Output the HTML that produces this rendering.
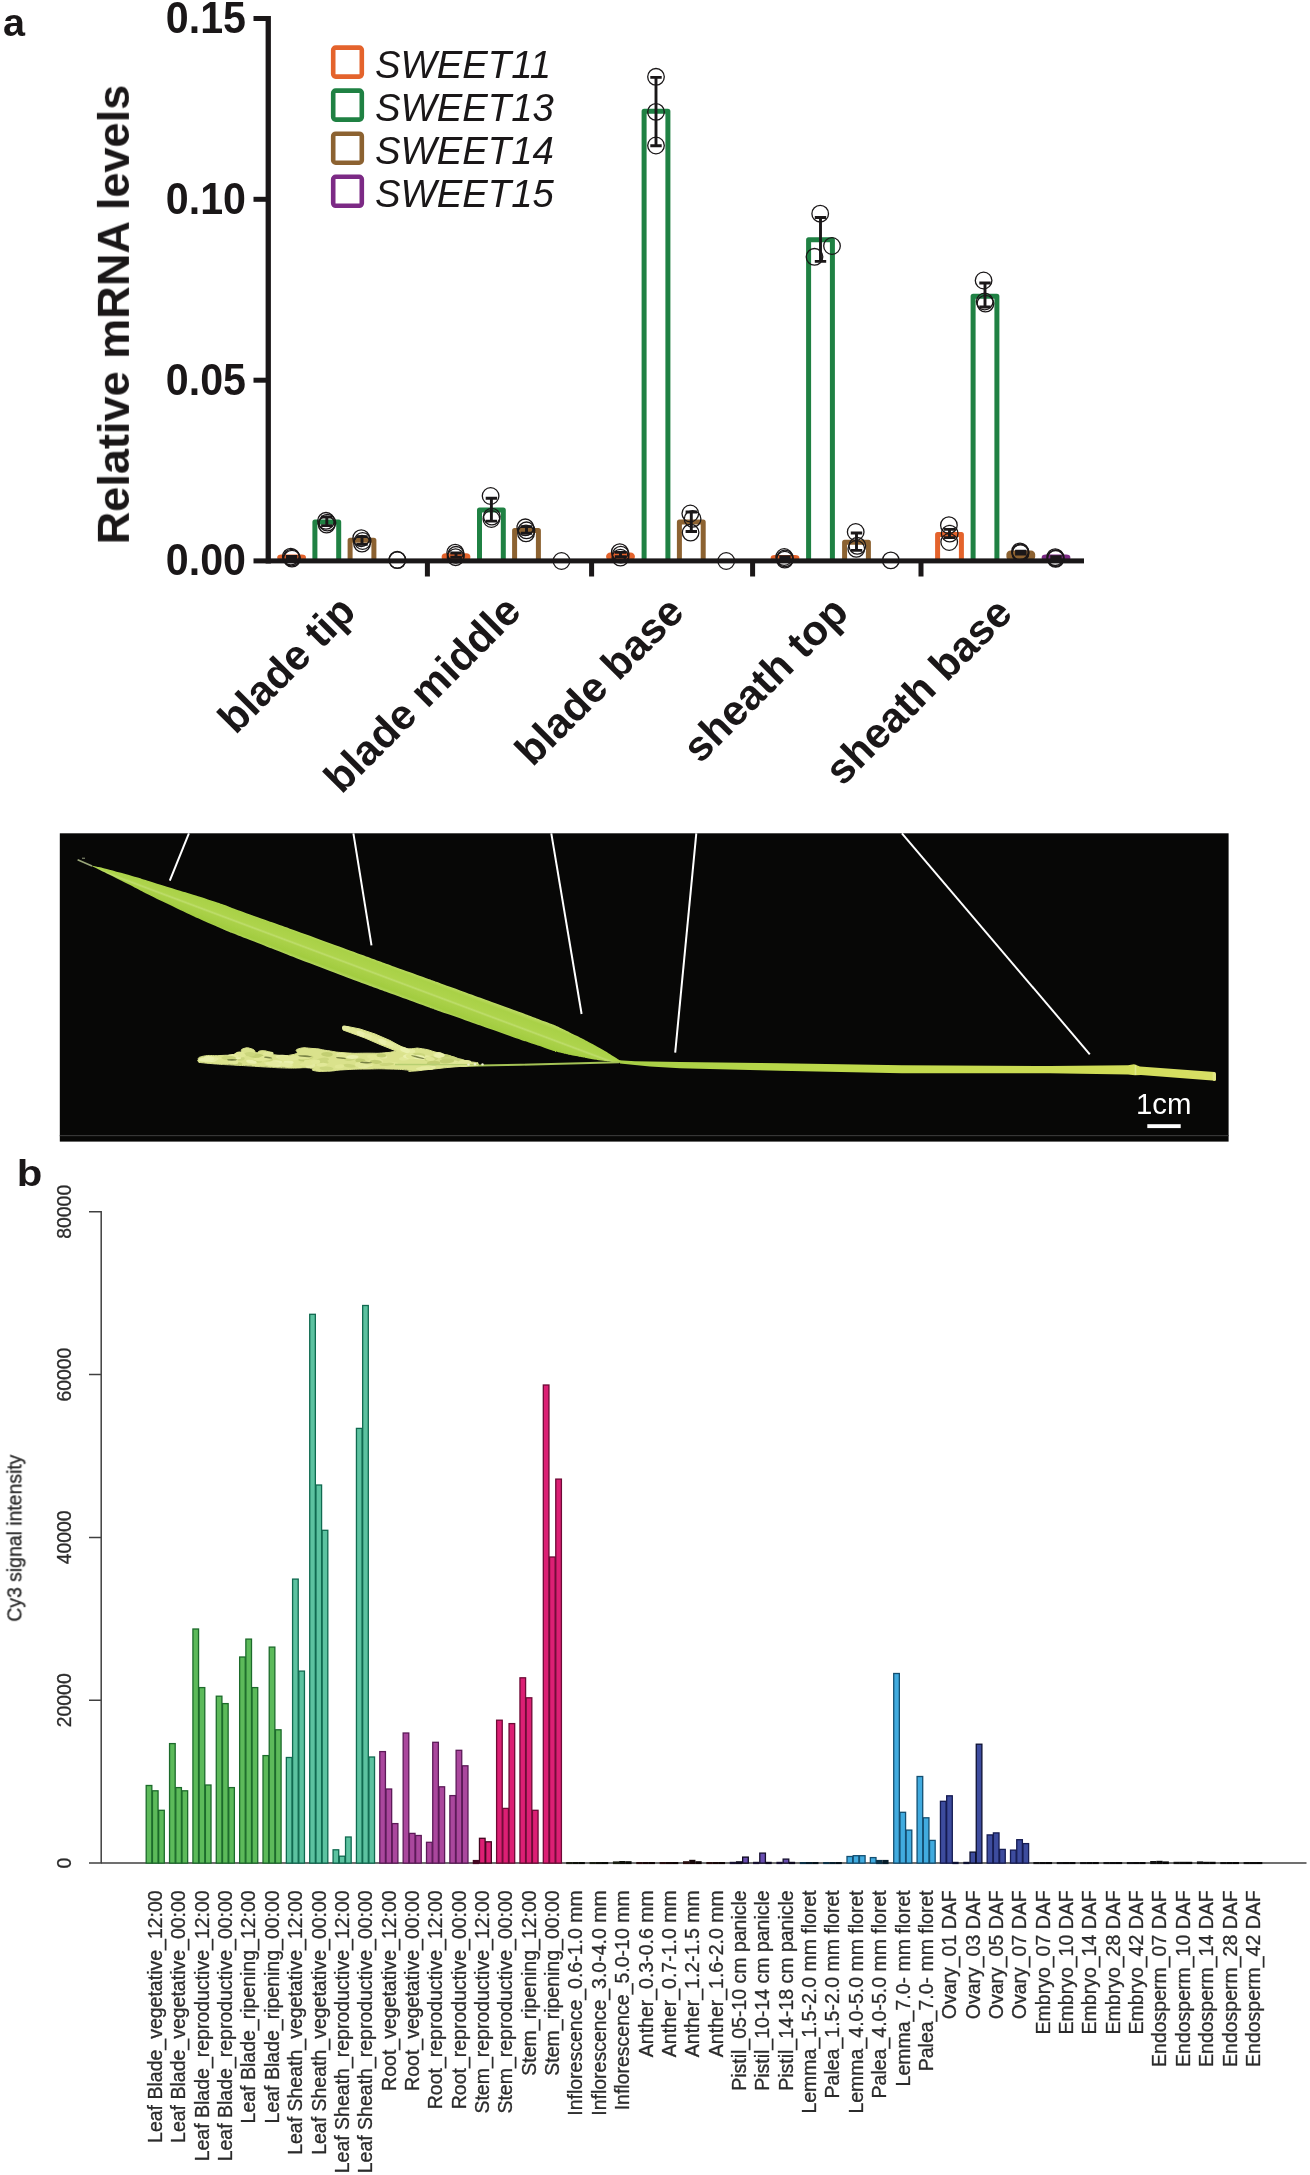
<!DOCTYPE html>
<html><head><meta charset="utf-8"><title>figure</title>
<style>
html,body{margin:0;padding:0;background:#fff;}
body{width:1310px;height:2175px;overflow:hidden;}
svg{display:block;font-family:'Liberation Sans', sans-serif;}
</style></head><body>
<svg width="1310" height="2175" viewBox="0 0 1310 2175">
<rect width="1310" height="2175" fill="#fff"/>
<g opacity="0.999">
<g id="panel-a">
<text x="3" y="35.6" font-size="38" font-weight="700" fill="#1a1718" textLength="22" lengthAdjust="spacingAndGlyphs">a</text>
<text transform="translate(128.9,314.6) rotate(-90)" text-anchor="middle" font-size="45.1" font-weight="700" fill="#1a1718">Relative mRNA levels</text>
<text transform="translate(246,33.0) scale(1,1.055)" text-anchor="end" font-size="41.2" font-weight="700" fill="#1a1718">0.15</text>
<text transform="translate(246,213.8) scale(1,1.055)" text-anchor="end" font-size="41.2" font-weight="700" fill="#1a1718">0.10</text>
<text transform="translate(246,394.7) scale(1,1.055)" text-anchor="end" font-size="41.2" font-weight="700" fill="#1a1718">0.05</text>
<text transform="translate(246,575.5) scale(1,1.055)" text-anchor="end" font-size="41.2" font-weight="700" fill="#1a1718">0.00</text>
<rect x="333.2" y="47.6" width="28.6" height="29" rx="2.5" fill="#fff" stroke="#E4632C" stroke-width="4.6"/>
<text x="375" y="77.6" font-size="38.3" font-style="italic" fill="#1a1718">SWEET11</text>
<rect x="333.2" y="90.6" width="28.6" height="29" rx="2.5" fill="#fff" stroke="#1F8143" stroke-width="4.6"/>
<text x="375" y="120.6" font-size="38.3" font-style="italic" fill="#1a1718">SWEET13</text>
<rect x="333.2" y="133.7" width="28.6" height="29" rx="2.5" fill="#fff" stroke="#8C6231" stroke-width="4.6"/>
<text x="375" y="163.7" font-size="38.3" font-style="italic" fill="#1a1718">SWEET14</text>
<rect x="333.2" y="176.8" width="28.6" height="29" rx="2.5" fill="#fff" stroke="#7C2A85" stroke-width="4.6"/>
<text x="375" y="206.8" font-size="38.3" font-style="italic" fill="#1a1718">SWEET15</text>
<rect x="277.2" y="554.6" width="28.8" height="6.4" rx="4.2" fill="#E4632C"/>
<path d="M314.9 561.0 V521.9 H338.7 V561.0" fill="none" stroke="#1F8143" stroke-width="5" stroke-linejoin="round"/>
<path d="M350.1 561.0 V540.2 H373.9 V561.0" fill="none" stroke="#8C6231" stroke-width="5" stroke-linejoin="round"/>
<rect x="441.6" y="553.2" width="28.8" height="7.8" rx="4.2" fill="#E4632C"/>
<path d="M479.5 561.0 V509.9 H503.3 V561.0" fill="none" stroke="#1F8143" stroke-width="5" stroke-linejoin="round"/>
<path d="M514.6 561.0 V530.5 H538.4 V561.0" fill="none" stroke="#8C6231" stroke-width="5" stroke-linejoin="round"/>
<rect x="606.1" y="552.4" width="28.8" height="8.6" rx="4.2" fill="#E4632C"/>
<path d="M644.1 561.0 V111.2 H667.9 V561.0" fill="none" stroke="#1F8143" stroke-width="5" stroke-linejoin="round"/>
<path d="M679.4 561.0 V522.1 H703.2 V561.0" fill="none" stroke="#8C6231" stroke-width="5" stroke-linejoin="round"/>
<rect x="770.6" y="555.0" width="28.8" height="6.0" rx="4.2" fill="#E4632C"/>
<path d="M808.6 561.0 V239.8 H832.4 V561.0" fill="none" stroke="#1F8143" stroke-width="5" stroke-linejoin="round"/>
<path d="M844.6 561.0 V542.2 H868.4 V561.0" fill="none" stroke="#8C6231" stroke-width="5" stroke-linejoin="round"/>
<path d="M937.6 561.0 V534.4 H961.4 V561.0" fill="none" stroke="#E4632C" stroke-width="5" stroke-linejoin="round"/>
<path d="M973.1 561.0 V296.3 H996.9 V561.0" fill="none" stroke="#1F8143" stroke-width="5" stroke-linejoin="round"/>
<rect x="1006.4" y="550.4" width="28.8" height="10.6" rx="4.2" fill="#8C6231"/>
<rect x="1041.6" y="554.6" width="28.8" height="6.4" rx="4.2" fill="#7C2A85"/>
<rect x="265.6" y="16" width="5.3" height="547.5" fill="#1a1718"/>
<rect x="253.5" y="558.4" width="830.5" height="5" fill="#1a1718"/>
<rect x="253.5" y="16.0" width="14" height="5" fill="#1a1718"/>
<rect x="253.5" y="196.8" width="14" height="5" fill="#1a1718"/>
<rect x="253.5" y="377.7" width="14" height="5" fill="#1a1718"/>
<rect x="424.9" y="560" width="5" height="16.5" fill="#1a1718"/>
<rect x="589.1" y="560" width="5" height="16.5" fill="#1a1718"/>
<rect x="750.1" y="560" width="5" height="16.5" fill="#1a1718"/>
<rect x="918.5" y="560" width="5" height="16.5" fill="#1a1718"/>
<path d="M291.6 556.5 V559.5 M285.9 556.5 h11.4 M285.9 559.5 h11.4" fill="none" stroke="#1a1718" stroke-width="2.9"/>
<circle cx="290.8" cy="556.6" r="8.3" fill="none" stroke="#1a1718" stroke-width="1.3"/>
<circle cx="291.6" cy="557.6" r="8.3" fill="none" stroke="#1a1718" stroke-width="1.3"/>
<circle cx="292.0" cy="558.6" r="8.3" fill="none" stroke="#1a1718" stroke-width="1.3"/>
<path d="M326.8 517.0 V525.6 M321.1 517.0 h11.4 M321.1 525.6 h11.4" fill="none" stroke="#1a1718" stroke-width="2.9"/>
<circle cx="326.0" cy="520.8" r="8.3" fill="none" stroke="#1a1718" stroke-width="1.3"/>
<circle cx="327.4" cy="522.6" r="8.3" fill="none" stroke="#1a1718" stroke-width="1.3"/>
<circle cx="326.6" cy="524.6" r="8.3" fill="none" stroke="#1a1718" stroke-width="1.3"/>
<path d="M362.0 536.6 V544.4 M356.3 536.6 h11.4 M356.3 544.4 h11.4" fill="none" stroke="#1a1718" stroke-width="2.9"/>
<circle cx="361.2" cy="538.2" r="8.3" fill="none" stroke="#1a1718" stroke-width="1.3"/>
<circle cx="362.6" cy="541.0" r="8.3" fill="none" stroke="#1a1718" stroke-width="1.3"/>
<circle cx="362.0" cy="543.6" r="8.3" fill="none" stroke="#1a1718" stroke-width="1.3"/>
<circle cx="397.2" cy="559.8" r="8.3" fill="none" stroke="#1a1718" stroke-width="1.3"/>
<circle cx="397.4" cy="560.1" r="8.3" fill="none" stroke="#1a1718" stroke-width="1.3"/>
<path d="M456.0 553.0 V557.2 M450.3 553.0 h11.4 M450.3 557.2 h11.4" fill="none" stroke="#1a1718" stroke-width="2.9"/>
<circle cx="455.2" cy="552.6" r="8.3" fill="none" stroke="#1a1718" stroke-width="1.3"/>
<circle cx="456.0" cy="554.8" r="8.3" fill="none" stroke="#1a1718" stroke-width="1.3"/>
<circle cx="455.6" cy="557.2" r="8.3" fill="none" stroke="#1a1718" stroke-width="1.3"/>
<path d="M491.4 498.2 V521.1 M485.7 498.2 h11.4 M485.7 521.1 h11.4" fill="none" stroke="#1a1718" stroke-width="2.9"/>
<circle cx="490.6" cy="496.0" r="8.3" fill="none" stroke="#1a1718" stroke-width="1.3"/>
<circle cx="491.8" cy="516.6" r="8.3" fill="none" stroke="#1a1718" stroke-width="1.3"/>
<circle cx="491.4" cy="519.0" r="8.3" fill="none" stroke="#1a1718" stroke-width="1.3"/>
<path d="M526.5 526.6 V533.2 M520.8 526.6 h11.4 M520.8 533.2 h11.4" fill="none" stroke="#1a1718" stroke-width="2.9"/>
<circle cx="525.3" cy="527.3" r="8.3" fill="none" stroke="#1a1718" stroke-width="1.3"/>
<circle cx="526.5" cy="530.3" r="8.3" fill="none" stroke="#1a1718" stroke-width="1.3"/>
<circle cx="526.0" cy="533.4" r="8.3" fill="none" stroke="#1a1718" stroke-width="1.3"/>
<circle cx="561.5" cy="561.0" r="8.3" fill="none" stroke="#1a1718" stroke-width="1.3"/>
<path d="M620.5 552.4 V556.8 M614.8 552.4 h11.4 M614.8 556.8 h11.4" fill="none" stroke="#1a1718" stroke-width="2.9"/>
<circle cx="619.8" cy="552.2" r="8.3" fill="none" stroke="#1a1718" stroke-width="1.3"/>
<circle cx="620.8" cy="554.6" r="8.3" fill="none" stroke="#1a1718" stroke-width="1.3"/>
<circle cx="620.4" cy="557.6" r="8.3" fill="none" stroke="#1a1718" stroke-width="1.3"/>
<path d="M656.0 77.4 V145.8 M650.3 77.4 h11.4 M650.3 145.8 h11.4" fill="none" stroke="#1a1718" stroke-width="2.9"/>
<circle cx="656.0" cy="76.8" r="8.3" fill="none" stroke="#1a1718" stroke-width="1.3"/>
<circle cx="656.0" cy="111.9" r="8.3" fill="none" stroke="#1a1718" stroke-width="1.3"/>
<circle cx="656.0" cy="145.5" r="8.3" fill="none" stroke="#1a1718" stroke-width="1.3"/>
<path d="M691.3 512.0 V531.5 M685.6 512.0 h11.4 M685.6 531.5 h11.4" fill="none" stroke="#1a1718" stroke-width="2.9"/>
<circle cx="690.3" cy="513.5" r="8.3" fill="none" stroke="#1a1718" stroke-width="1.3"/>
<circle cx="692.6" cy="518.9" r="8.3" fill="none" stroke="#1a1718" stroke-width="1.3"/>
<circle cx="690.6" cy="532.6" r="8.3" fill="none" stroke="#1a1718" stroke-width="1.3"/>
<circle cx="726.2" cy="561.0" r="8.3" fill="none" stroke="#1a1718" stroke-width="1.3"/>
<path d="M785.0 556.8 V559.2 M779.3 556.8 h11.4 M779.3 559.2 h11.4" fill="none" stroke="#1a1718" stroke-width="2.9"/>
<circle cx="784.2" cy="557.0" r="8.3" fill="none" stroke="#1a1718" stroke-width="1.3"/>
<circle cx="785.0" cy="558.4" r="8.3" fill="none" stroke="#1a1718" stroke-width="1.3"/>
<circle cx="784.8" cy="559.6" r="8.3" fill="none" stroke="#1a1718" stroke-width="1.3"/>
<path d="M820.5 217.5 V261.4 M814.8 217.5 h11.4 M814.8 261.4 h11.4" fill="none" stroke="#1a1718" stroke-width="2.9"/>
<circle cx="820.2" cy="213.7" r="8.3" fill="none" stroke="#1a1718" stroke-width="1.3"/>
<circle cx="832.0" cy="246.0" r="8.3" fill="none" stroke="#1a1718" stroke-width="1.3"/>
<circle cx="814.5" cy="256.8" r="8.3" fill="none" stroke="#1a1718" stroke-width="1.3"/>
<path d="M856.5 533.0 V550.4 M850.8 533.0 h11.4 M850.8 550.4 h11.4" fill="none" stroke="#1a1718" stroke-width="2.9"/>
<circle cx="855.7" cy="532.0" r="8.3" fill="none" stroke="#1a1718" stroke-width="1.3"/>
<circle cx="857.3" cy="545.8" r="8.3" fill="none" stroke="#1a1718" stroke-width="1.3"/>
<circle cx="856.3" cy="548.9" r="8.3" fill="none" stroke="#1a1718" stroke-width="1.3"/>
<circle cx="890.8" cy="560.4" r="8.3" fill="none" stroke="#1a1718" stroke-width="1.3"/>
<path d="M949.5 529.4 V537.6 M943.8 529.4 h11.4 M943.8 537.6 h11.4" fill="none" stroke="#1a1718" stroke-width="2.9"/>
<circle cx="948.9" cy="525.2" r="8.3" fill="none" stroke="#1a1718" stroke-width="1.3"/>
<circle cx="949.7" cy="533.6" r="8.3" fill="none" stroke="#1a1718" stroke-width="1.3"/>
<circle cx="949.2" cy="542.0" r="8.3" fill="none" stroke="#1a1718" stroke-width="1.3"/>
<path d="M985.0 283.0 V307.0 M979.3 283.0 h11.4 M979.3 307.0 h11.4" fill="none" stroke="#1a1718" stroke-width="2.9"/>
<circle cx="983.6" cy="280.5" r="8.3" fill="none" stroke="#1a1718" stroke-width="1.3"/>
<circle cx="984.7" cy="301.5" r="8.3" fill="none" stroke="#1a1718" stroke-width="1.3"/>
<circle cx="985.5" cy="303.6" r="8.3" fill="none" stroke="#1a1718" stroke-width="1.3"/>
<path d="M1020.8 551.2 V554.0 M1015.1 551.2 h11.4 M1015.1 554.0 h11.4" fill="none" stroke="#1a1718" stroke-width="2.9"/>
<circle cx="1020.0" cy="551.4" r="8.3" fill="none" stroke="#1a1718" stroke-width="1.3"/>
<circle cx="1020.6" cy="552.4" r="8.3" fill="none" stroke="#1a1718" stroke-width="1.3"/>
<circle cx="1020.4" cy="553.2" r="8.3" fill="none" stroke="#1a1718" stroke-width="1.3"/>
<path d="M1056.0 556.6 V558.8 M1050.3 556.6 h11.4 M1050.3 558.8 h11.4" fill="none" stroke="#1a1718" stroke-width="2.9"/>
<circle cx="1055.2" cy="557.2" r="8.3" fill="none" stroke="#1a1718" stroke-width="1.3"/>
<circle cx="1055.8" cy="558.2" r="8.3" fill="none" stroke="#1a1718" stroke-width="1.3"/>
<circle cx="1055.6" cy="558.8" r="8.3" fill="none" stroke="#1a1718" stroke-width="1.3"/>
<text transform="translate(357.7,613.5) rotate(-45)" text-anchor="end" font-size="42" font-weight="700" fill="#1a1718">blade tip</text>
<text transform="translate(523,613.5) rotate(-45)" text-anchor="end" font-size="42" font-weight="700" fill="#1a1718">blade middle</text>
<text transform="translate(686.1,614.3) rotate(-45)" text-anchor="end" font-size="42" font-weight="700" fill="#1a1718">blade base</text>
<text transform="translate(850.3,614.3) rotate(-45)" text-anchor="end" font-size="42" font-weight="700" fill="#1a1718">sheath top</text>
<text transform="translate(1014.2,615.4) rotate(-45)" text-anchor="end" font-size="42" font-weight="700" fill="#1a1718">sheath base</text>
</g>
<g id="photo">
<defs>
<linearGradient id="leafg" gradientUnits="userSpaceOnUse" x1="404.9" y1="969.6" x2="395.1" y2="995.8"><stop offset="0" stop-color="#bcda62"/><stop offset="0.14" stop-color="#a9d146"/><stop offset="0.44" stop-color="#aed44d"/><stop offset="0.5" stop-color="#bedd6c"/><stop offset="0.56" stop-color="#aad148"/><stop offset="0.86" stop-color="#a2cc40"/><stop offset="1" stop-color="#b6d862"/></linearGradient>
<linearGradient id="sheathg" gradientUnits="userSpaceOnUse" x1="620" y1="0" x2="1215" y2="0"><stop offset="0" stop-color="#a6ce45"/><stop offset="0.35" stop-color="#bdd94b"/><stop offset="0.8" stop-color="#cfdc55"/><stop offset="1" stop-color="#d8df66"/></linearGradient>
<filter id="soft" x="-5%" y="-20%" width="110%" height="140%"><feGaussianBlur stdDeviation="0.55"/></filter>
<filter id="soft2" x="-5%" y="-20%" width="110%" height="140%"><feGaussianBlur stdDeviation="0.6"/></filter>
</defs>
<rect x="59.8" y="833.3" width="1168.8" height="308.3" fill="#070706"/>
<rect x="59.8" y="1135" width="1168.8" height="1.2" fill="#363636"/>
<g filter="url(#soft)">
<path d="M90.5 865.1528 C100.7 867.7 95.5 865.6 121.0 872.8 C146.5 880.0 136.3 877.3 166.9 886.8 C197.5 896.2 185.0 891.8 212.7 901.0 C240.4 910.2 210.9 900.3 250.0 914.4 C289.1 928.4 276.7 923.9 330.0 943.2 C383.3 962.5 370.0 957.7 410.0 972.3 C450.0 986.8 416.7 974.6 450.0 986.8 C483.3 998.9 478.3 997.0 510.0 1008.6 C541.7 1020.2 528.3 1015.2 545.0 1021.6 C561.7 1028.0 549.7 1023.1 560.0 1027.7 C570.3 1032.4 566.0 1030.5 576.0 1035.6 C586.0 1040.6 581.7 1038.4 590.0 1042.8 C598.3 1047.2 593.7 1044.6 601.0 1048.8 C608.3 1053.0 605.3 1051.3 612.0 1055.4 C618.7 1059.5 618.0 1059.2 621.0 1061.0 L621 1062.6499999999999 C618.0 1062.4 618.7 1062.6 612.0 1061.9 C605.3 1061.2 608.3 1061.6 601.0 1060.6 C593.7 1059.6 598.3 1060.3 590.0 1058.8 C581.7 1057.3 586.0 1058.2 576.0 1056.1 C566.0 1054.0 570.3 1055.2 560.0 1052.5 C549.7 1049.8 561.7 1053.4 545.0 1047.9 C528.3 1042.4 541.7 1047.0 510.0 1035.9 C478.3 1024.9 483.3 1026.6 450.0 1014.8 C416.7 1002.9 450.0 1015.0 410.0 1000.4 C370.0 985.8 383.3 991.1 330.0 971.0 C276.7 950.8 289.1 955.3 250.0 940.0 C210.9 924.6 240.4 937.0 212.7 924.8 C185.0 912.7 197.5 918.3 166.9 903.6 C136.3 888.8 146.5 893.2 121.0 880.5 C95.5 867.8 100.7 870.5 90.5 865.6 Z" fill="url(#leafg)"/>
<path d="M77.6 859.8 L92 866" stroke="#9aa67a" stroke-width="1.6" fill="none"/>
<rect x="82" y="857.6" width="3" height="1.4" fill="#6a6f5a"/>
<path d="M440 1066.2 L520 1064.8 L619 1062.2" stroke="#a4c254" stroke-width="1.9" fill="none"/>
<path d="M619.0 1060.2 L635.0 1061.2 L680.0 1062.0 L780.0 1063.3 L902.0 1065.3 L1050.0 1066.0 L1128.0 1065.2 L1134.0 1064.3 L1140.0 1066.5 L1214.5 1072.0 L1215.5 1080.8 L1141.0 1075.0 L1135.0 1075.3 L1128.0 1074.5 L1050.0 1073.2 L902.0 1073.3 L780.0 1070.8 L680.0 1068.3 L650.0 1066.6 L620.0 1063.6Z" fill="url(#sheathg)"/>
<path d="M1135.5 1064.8 V1075" stroke="#dfe88a" stroke-width="1.6"/>
<rect x="1212.6" y="1072" width="3.4" height="9" rx="1.7" fill="#e2e684"/>
</g>
<g filter="url(#soft2)">
<path d="M197.7 1060.4 C199.6 1059.0 195.5 1057.8 203.3 1056.2 C211.1 1054.6 209.4 1056.2 221.0 1055.5 C232.6 1054.8 230.7 1056.2 238.0 1054.0 C245.3 1051.8 238.3 1050.5 243.0 1048.8 C247.7 1047.1 247.5 1047.7 252.0 1049.0 C256.5 1050.3 253.5 1052.0 256.4 1052.6 C259.3 1053.2 256.7 1051.1 260.8 1050.8 C264.9 1050.5 264.3 1050.5 268.7 1051.8 C273.1 1053.1 265.6 1053.9 274.0 1054.8 C282.4 1055.7 285.8 1056.4 294.0 1054.4 C302.2 1052.4 291.8 1050.7 298.5 1048.8 C305.2 1046.9 304.4 1048.0 314.0 1048.6 C323.6 1049.2 317.0 1049.2 327.3 1050.6 C337.6 1052.0 331.8 1051.9 345.0 1052.8 C358.2 1053.7 353.7 1053.2 367.0 1053.2 C380.3 1053.2 374.5 1053.6 384.8 1052.8 C395.1 1052.0 389.1 1052.1 398.0 1050.8 C406.9 1049.5 403.2 1049.5 411.4 1048.8 C419.6 1048.1 413.6 1047.5 422.5 1048.8 C431.4 1050.1 428.4 1050.3 438.0 1052.8 C447.6 1055.3 442.4 1053.7 451.2 1056.2 C460.0 1058.7 455.6 1058.2 464.5 1060.4 C473.4 1062.6 473.5 1062.0 478.0 1062.8 L478 1065.4 C470.6 1065.9 470.5 1065.6 455.7 1066.8 C440.9 1068.0 448.3 1067.5 433.5 1069.0 C418.7 1070.5 419.6 1070.8 411.4 1071.2 C403.2 1071.6 416.4 1070.9 409.0 1070.2 C401.6 1069.5 403.2 1069.4 389.2 1069.0 C375.2 1068.6 381.7 1068.8 367.0 1069.0 C352.3 1069.2 358.2 1069.0 345.0 1069.7 C331.8 1070.4 337.6 1070.9 327.3 1071.2 C317.0 1071.5 319.9 1071.7 314.0 1070.6 C308.1 1069.5 318.4 1068.9 309.5 1068.0 C300.6 1067.1 302.9 1068.4 287.4 1068.0 C271.9 1067.6 279.2 1067.7 263.0 1066.8 C246.8 1065.9 254.2 1066.2 238.7 1065.3 C223.2 1064.4 229.9 1065.0 216.6 1064.0 C203.3 1063.0 204.8 1062.9 198.9 1062.4 Z" fill="#dae28c" stroke="#dae28c" stroke-width="1.0" stroke-linejoin="round"/>
<path d="M342.5 1027.3 L347.0 1026.4 L360.0 1029.0 L375.0 1034.0 L390.0 1040.5 L400.0 1046.0 L412.0 1050.5 L408.0 1054.0 L395.0 1050.5 L380.0 1044.5 L365.0 1038.0 L350.0 1032.5 L343.0 1030.0Z" fill="#dde590" stroke="#dde590" stroke-width="1.0" stroke-linejoin="round"/>
<ellipse cx="321.5" cy="1061.4" rx="7.3" ry="2.1" fill="#cbd67c" transform="rotate(8 321.5 1061.4)"/>
<ellipse cx="252.8" cy="1062.0" rx="5.9" ry="2.2" fill="#e1e898" transform="rotate(-4 252.8 1062.0)"/>
<ellipse cx="282.5" cy="1057.0" rx="6.9" ry="2.3" fill="#e5eba0" transform="rotate(4 282.5 1057.0)"/>
<ellipse cx="306.8" cy="1057.6" rx="6.7" ry="2.3" fill="#cbd67c" transform="rotate(-6 306.8 1057.6)"/>
<ellipse cx="341.4" cy="1054.7" rx="5.1" ry="1.8" fill="#e5eba0" transform="rotate(6 341.4 1054.7)"/>
<ellipse cx="288.5" cy="1062.2" rx="5.1" ry="1.8" fill="#eaf0ac" transform="rotate(2 288.5 1062.2)"/>
<ellipse cx="376.6" cy="1060.4" rx="5.3" ry="2.6" fill="#e5eba0" transform="rotate(5 376.6 1060.4)"/>
<ellipse cx="285.6" cy="1058.4" rx="5.4" ry="1.7" fill="#e5eba0" transform="rotate(0 285.6 1058.4)"/>
<ellipse cx="424.8" cy="1057.6" rx="7.4" ry="2.4" fill="#e5eba0" transform="rotate(-3 424.8 1057.6)"/>
<ellipse cx="445.9" cy="1056.9" rx="5.6" ry="2.3" fill="#c2ce72" transform="rotate(-5 445.9 1056.9)"/>
<ellipse cx="367.9" cy="1064.7" rx="5.3" ry="1.7" fill="#eaf0ac" transform="rotate(-6 367.9 1064.7)"/>
<ellipse cx="310.4" cy="1065.7" rx="4.9" ry="2.3" fill="#e5eba0" transform="rotate(-5 310.4 1065.7)"/>
<ellipse cx="411.8" cy="1053.7" rx="6.2" ry="2.0" fill="#e1e898" transform="rotate(10 411.8 1053.7)"/>
<ellipse cx="404.6" cy="1058.5" rx="5.7" ry="2.0" fill="#e1e898" transform="rotate(-6 404.6 1058.5)"/>
<ellipse cx="429.5" cy="1067.5" rx="6.3" ry="2.6" fill="#e5eba0" transform="rotate(-3 429.5 1067.5)"/>
<ellipse cx="306.3" cy="1064.1" rx="6.4" ry="1.7" fill="#e1e898" transform="rotate(-3 306.3 1064.1)"/>
<ellipse cx="270.7" cy="1063.1" rx="5.5" ry="1.9" fill="#e5eba0" transform="rotate(-5 270.7 1063.1)"/>
<ellipse cx="257.7" cy="1060.8" rx="4.5" ry="2.0" fill="#cbd67c" transform="rotate(1 257.7 1060.8)"/>
<ellipse cx="454.3" cy="1061.9" rx="6.2" ry="2.5" fill="#e1e898" transform="rotate(4 454.3 1061.9)"/>
<ellipse cx="284.4" cy="1058.4" rx="6.3" ry="2.3" fill="#e1e898" transform="rotate(6 284.4 1058.4)"/>
<ellipse cx="449.4" cy="1058.9" rx="7.4" ry="2.5" fill="#cbd67c" transform="rotate(-5 449.4 1058.9)"/>
<ellipse cx="215.4" cy="1057.8" rx="6.0" ry="1.9" fill="#e0e794" transform="rotate(5 215.4 1057.8)"/>
<ellipse cx="270.3" cy="1063.6" rx="6.3" ry="1.9" fill="#e1e898" transform="rotate(9 270.3 1063.6)"/>
<ellipse cx="459.0" cy="1060.8" rx="5.9" ry="2.3" fill="#cbd67c" transform="rotate(4 459.0 1060.8)"/>
<ellipse cx="276.4" cy="1065.2" rx="5.1" ry="1.6" fill="#eaf0ac" transform="rotate(1 276.4 1065.2)"/>
<ellipse cx="268.3" cy="1053.8" rx="5.3" ry="2.1" fill="#e1e898" transform="rotate(-5 268.3 1053.8)"/>
<ellipse cx="239.3" cy="1058.5" rx="5.5" ry="2.3" fill="#cbd67c" transform="rotate(3 239.3 1058.5)"/>
<ellipse cx="239.8" cy="1054.0" rx="4.6" ry="2.5" fill="#e0e794" transform="rotate(-1 239.8 1054.0)"/>
<ellipse cx="211.8" cy="1060.2" rx="4.7" ry="1.7" fill="#eaf0ac" transform="rotate(-1 211.8 1060.2)"/>
<ellipse cx="464.8" cy="1062.2" rx="6.1" ry="2.3" fill="#e0e794" transform="rotate(6 464.8 1062.2)"/>
<ellipse cx="236.9" cy="1063.4" rx="5.5" ry="1.7" fill="#c2ce72" transform="rotate(8 236.9 1063.4)"/>
<ellipse cx="431.2" cy="1058.9" rx="6.9" ry="2.5" fill="#cbd67c" transform="rotate(-6 431.2 1058.9)"/>
<ellipse cx="376.5" cy="1059.4" rx="4.5" ry="1.7" fill="#e5eba0" transform="rotate(4 376.5 1059.4)"/>
<ellipse cx="463.3" cy="1064.4" rx="6.7" ry="2.0" fill="#e0e794" transform="rotate(5 463.3 1064.4)"/>
<ellipse cx="322.9" cy="1059.8" rx="6.1" ry="2.1" fill="#cbd67c" transform="rotate(-6 322.9 1059.8)"/>
<ellipse cx="360.5" cy="1060.9" rx="5.2" ry="2.3" fill="#c2ce72" transform="rotate(6 360.5 1060.9)"/>
<ellipse cx="376.0" cy="1060.8" rx="7.2" ry="2.0" fill="#e1e898" transform="rotate(5 376.0 1060.8)"/>
<ellipse cx="256.1" cy="1055.7" rx="7.2" ry="2.3" fill="#c2ce72" transform="rotate(2 256.1 1055.7)"/>
<ellipse cx="266.3" cy="1058.0" rx="5.3" ry="2.2" fill="#e1e898" transform="rotate(8 266.3 1058.0)"/>
<ellipse cx="303.7" cy="1059.7" rx="5.4" ry="1.7" fill="#c2ce72" transform="rotate(-0 303.7 1059.7)"/>
<ellipse cx="437.7" cy="1054.7" rx="4.7" ry="2.6" fill="#e1e898" transform="rotate(-4 437.7 1054.7)"/>
<ellipse cx="326.5" cy="1068.4" rx="7.0" ry="2.0" fill="#cbd67c" transform="rotate(2 326.5 1068.4)"/>
<ellipse cx="285.6" cy="1064.7" rx="7.4" ry="2.1" fill="#e5eba0" transform="rotate(7 285.6 1064.7)"/>
<ellipse cx="275.9" cy="1062.1" rx="6.5" ry="1.9" fill="#eaf0ac" transform="rotate(-1 275.9 1062.1)"/>
<ellipse cx="410.4" cy="1050.8" rx="4.9" ry="2.1" fill="#e5eba0" transform="rotate(6 410.4 1050.8)"/>
<ellipse cx="272.8" cy="1063.5" rx="6.9" ry="2.6" fill="#e5eba0" transform="rotate(1 272.8 1063.5)"/>
<ellipse cx="368.1" cy="1063.1" rx="6.9" ry="2.6" fill="#e0e794" transform="rotate(-3 368.1 1063.1)"/>
<ellipse cx="418.8" cy="1055.1" rx="6.6" ry="2.4" fill="#cbd67c" transform="rotate(5 418.8 1055.1)"/>
<ellipse cx="249.9" cy="1054.3" rx="5.5" ry="2.3" fill="#cbd67c" transform="rotate(2 249.9 1054.3)"/>
<ellipse cx="464.2" cy="1062.3" rx="7.0" ry="2.3" fill="#e1e898" transform="rotate(-5 464.2 1062.3)"/>
<ellipse cx="447.3" cy="1063.5" rx="4.9" ry="2.1" fill="#e0e794" transform="rotate(8 447.3 1063.5)"/>
<ellipse cx="204.8" cy="1059.7" rx="6.5" ry="2.1" fill="#eaf0ac" transform="rotate(1 204.8 1059.7)"/>
<ellipse cx="373.6" cy="1057.2" rx="6.7" ry="2.4" fill="#e0e794" transform="rotate(9 373.6 1057.2)"/>
<ellipse cx="235.4" cy="1057.6" rx="5.7" ry="1.7" fill="#eaf0ac" transform="rotate(3 235.4 1057.6)"/>
<ellipse cx="410.2" cy="1056.5" rx="7.2" ry="2.5" fill="#eaf0ac" transform="rotate(2 410.2 1056.5)"/>
<ellipse cx="212.7" cy="1059.0" rx="5.8" ry="1.9" fill="#e5eba0" transform="rotate(-3 212.7 1059.0)"/>
<ellipse cx="430.3" cy="1059.0" rx="4.6" ry="2.1" fill="#e0e794" transform="rotate(7 430.3 1059.0)"/>
<ellipse cx="239.8" cy="1055.1" rx="6.0" ry="2.3" fill="#e0e794" transform="rotate(5 239.8 1055.1)"/>
<ellipse cx="450.8" cy="1061.6" rx="7.3" ry="1.7" fill="#e1e898" transform="rotate(1 450.8 1061.6)"/>
<ellipse cx="349.4" cy="1065.8" rx="6.2" ry="1.8" fill="#cbd67c" transform="rotate(7 349.4 1065.8)"/>
<ellipse cx="349.7" cy="1058.6" rx="5.6" ry="2.4" fill="#cbd67c" transform="rotate(-3 349.7 1058.6)"/>
<ellipse cx="425.9" cy="1067.7" rx="6.1" ry="2.2" fill="#e1e898" transform="rotate(1 425.9 1067.7)"/>
<ellipse cx="232.9" cy="1056.0" rx="5.6" ry="2.1" fill="#e5eba0" transform="rotate(2 232.9 1056.0)"/>
<ellipse cx="308.0" cy="1063.3" rx="6.2" ry="2.1" fill="#e0e794" transform="rotate(-3 308.0 1063.3)"/>
<ellipse cx="446.9" cy="1061.0" rx="7.3" ry="2.4" fill="#c2ce72" transform="rotate(-2 446.9 1061.0)"/>
<ellipse cx="327.0" cy="1054.3" rx="5.8" ry="2.4" fill="#c2ce72" transform="rotate(2 327.0 1054.3)"/>
<ellipse cx="231.5" cy="1059.1" rx="4.6" ry="1.9" fill="#e0e794" transform="rotate(6 231.5 1059.1)"/>
<ellipse cx="209.0" cy="1058.3" rx="5.2" ry="2.3" fill="#eaf0ac" transform="rotate(6 209.0 1058.3)"/>
<ellipse cx="267.1" cy="1059.3" rx="6.0" ry="2.2" fill="#cbd67c" transform="rotate(4 267.1 1059.3)"/>
<ellipse cx="391.0" cy="1063.4" rx="7.1" ry="1.6" fill="#e0e794" transform="rotate(1 391.0 1063.4)"/>
<ellipse cx="341.7" cy="1056.2" rx="5.1" ry="2.2" fill="#e0e794" transform="rotate(-3 341.7 1056.2)"/>
<ellipse cx="259.6" cy="1059.5" rx="6.3" ry="1.7" fill="#e0e794" transform="rotate(4 259.6 1059.5)"/>
<ellipse cx="294.1" cy="1057.7" rx="6.3" ry="2.5" fill="#e1e898" transform="rotate(-3 294.1 1057.7)"/>
<ellipse cx="464.6" cy="1064.4" rx="4.9" ry="1.8" fill="#e0e794" transform="rotate(-5 464.6 1064.4)"/>
<ellipse cx="304.6" cy="1057.3" rx="7.3" ry="2.1" fill="#e0e794" transform="rotate(-4 304.6 1057.3)"/>
<ellipse cx="308.5" cy="1061.4" rx="4.6" ry="1.8" fill="#e0e794" transform="rotate(-0 308.5 1061.4)"/>
<ellipse cx="418.1" cy="1057.1" rx="6.6" ry="2.2" fill="#eaf0ac" transform="rotate(2 418.1 1057.1)"/>
<ellipse cx="382.6" cy="1056.8" rx="4.7" ry="1.7" fill="#e5eba0" transform="rotate(6 382.6 1056.8)"/>
<ellipse cx="363.7" cy="1066.4" rx="5.9" ry="1.8" fill="#e5eba0" transform="rotate(-3 363.7 1066.4)"/>
<ellipse cx="423.1" cy="1068.4" rx="7.3" ry="1.7" fill="#e5eba0" transform="rotate(-4 423.1 1068.4)"/>
<ellipse cx="381.4" cy="1055.4" rx="4.8" ry="2.0" fill="#c2ce72" transform="rotate(2 381.4 1055.4)"/>
<ellipse cx="315.7" cy="1061.7" rx="4.5" ry="2.3" fill="#e1e898" transform="rotate(-3 315.7 1061.7)"/>
<ellipse cx="321.9" cy="1064.7" rx="5.7" ry="1.8" fill="#e1e898" transform="rotate(-4 321.9 1064.7)"/>
<ellipse cx="410.6" cy="1056.6" rx="4.8" ry="2.4" fill="#e0e794" transform="rotate(9 410.6 1056.6)"/>
<ellipse cx="352.3" cy="1057.0" rx="6.3" ry="1.9" fill="#eaf0ac" transform="rotate(-2 352.3 1057.0)"/>
<ellipse cx="233.5" cy="1061.5" rx="5.0" ry="2.5" fill="#e1e898" transform="rotate(8 233.5 1061.5)"/>
<ellipse cx="433.5" cy="1063.1" rx="6.8" ry="2.4" fill="#c2ce72" transform="rotate(-3 433.5 1063.1)"/>
<ellipse cx="251.4" cy="1061.7" rx="5.4" ry="1.7" fill="#eaf0ac" transform="rotate(10 251.4 1061.7)"/>
<ellipse cx="439.5" cy="1055.3" rx="5.3" ry="2.6" fill="#eaf0ac" transform="rotate(-1 439.5 1055.3)"/>
<ellipse cx="375.9" cy="1061.9" rx="6.1" ry="2.0" fill="#c2ce72" transform="rotate(4 375.9 1061.9)"/>
<ellipse cx="386.7" cy="1064.3" rx="7.4" ry="1.6" fill="#cbd67c" transform="rotate(-4 386.7 1064.3)"/>
<ellipse cx="265.1" cy="1058.4" rx="6.0" ry="2.4" fill="#e0e794" transform="rotate(0 265.1 1058.4)"/>
<ellipse cx="228.8" cy="1058.0" rx="7.2" ry="2.2" fill="#cbd67c" transform="rotate(1 228.8 1058.0)"/>
<ellipse cx="339.4" cy="1066.4" rx="4.8" ry="2.0" fill="#e0e794" transform="rotate(-5 339.4 1066.4)"/>
<ellipse cx="359.6" cy="1064.6" rx="4.6" ry="2.5" fill="#e1e898" transform="rotate(0 359.6 1064.6)"/>
<ellipse cx="347.0" cy="1028.5" rx="5.2" ry="2.4" fill="#e5eba0" transform="rotate(21 347.0 1028.5)"/>
<ellipse cx="354.2" cy="1031.2" rx="5.2" ry="2.4" fill="#e1e898" transform="rotate(21 354.2 1031.2)"/>
<ellipse cx="361.5" cy="1033.9" rx="5.2" ry="2.4" fill="#eaf0ac" transform="rotate(21 361.5 1033.9)"/>
<ellipse cx="368.8" cy="1036.6" rx="5.2" ry="2.4" fill="#e5eba0" transform="rotate(21 368.8 1036.6)"/>
<ellipse cx="376.0" cy="1039.2" rx="5.2" ry="2.4" fill="#e1e898" transform="rotate(21 376.0 1039.2)"/>
<ellipse cx="383.2" cy="1041.9" rx="5.2" ry="2.4" fill="#eaf0ac" transform="rotate(21 383.2 1041.9)"/>
<ellipse cx="390.5" cy="1044.6" rx="5.2" ry="2.4" fill="#e5eba0" transform="rotate(21 390.5 1044.6)"/>
<ellipse cx="397.8" cy="1047.3" rx="5.2" ry="2.4" fill="#e1e898" transform="rotate(21 397.8 1047.3)"/>
<ellipse cx="405.0" cy="1050.0" rx="5.2" ry="2.4" fill="#eaf0ac" transform="rotate(21 405.0 1050.0)"/>
<ellipse cx="305" cy="1056.2" rx="7" ry="0.85" fill="#57622a" opacity="0.75" transform="rotate(4 305 1056.2)"/>
<ellipse cx="366" cy="1062.6" rx="6" ry="0.85" fill="#57622a" opacity="0.75" transform="rotate(2 366 1062.6)"/>
<ellipse cx="418" cy="1057.2" rx="7" ry="0.85" fill="#57622a" opacity="0.75" transform="rotate(14 418 1057.2)"/>
<ellipse cx="341" cy="1058.0" rx="5" ry="0.85" fill="#57622a" opacity="0.75" transform="rotate(6 341 1058.0)"/>
<ellipse cx="232" cy="1059.8" rx="5" ry="0.85" fill="#57622a" opacity="0.75" transform="rotate(0 232 1059.8)"/>
<ellipse cx="268" cy="1057.5" rx="4" ry="0.85" fill="#57622a" opacity="0.75" transform="rotate(8 268 1057.5)"/>
<path d="M395 1064.5 L479 1064.6" stroke="#b7cf72" stroke-width="1.4"/>
</g>
<circle cx="468.5" cy="1064.6" r="1.2" fill="#eef2d0"/>
<circle cx="475" cy="1064.2" r="1.2" fill="#eef2d0"/>
<circle cx="482.5" cy="1064.4" r="1.2" fill="#eef2d0"/>
<line x1="188.9" y1="833.3" x2="169.8" y2="880.6" stroke="#fff" stroke-width="2"/>
<line x1="353.4" y1="833.3" x2="371.5" y2="945.4" stroke="#fff" stroke-width="2"/>
<line x1="551.3" y1="833.3" x2="581.6" y2="1014" stroke="#fff" stroke-width="2"/>
<line x1="696.3" y1="833.3" x2="675.2" y2="1052.7" stroke="#fff" stroke-width="2"/>
<line x1="901.9" y1="833.3" x2="1089.8" y2="1054.3" stroke="#fff" stroke-width="2"/>
<text x="1136" y="1114.4" font-size="29.5" fill="#fff" textLength="55.5" lengthAdjust="spacingAndGlyphs">1cm</text>
<rect x="1147.3" y="1124.2" width="33.4" height="3.9" fill="#fff"/>
</g>
<g id="panel-b">
<text x="16.8" y="1185.6" font-size="37" font-weight="700" fill="#1a1718" textLength="25.6" lengthAdjust="spacingAndGlyphs">b</text>
<path d="M89 1211.8 H101.2 V1863.1 H89 M89 1537.4 H101.2 M89 1374.6 H101.2 M89 1700.3 H101.2" fill="none" stroke="#404040" stroke-width="1.5"/>
<path d="M101.2 1863.1 H1306.5" fill="none" stroke="#404040" stroke-width="1.5"/>
<text transform="translate(71,1211.8) rotate(-90)" text-anchor="middle" font-size="19.4" fill="#2b2b2b" stroke="#2b2b2b" stroke-width="0.3">80000</text>
<text transform="translate(71,1374.6) rotate(-90)" text-anchor="middle" font-size="19.4" fill="#2b2b2b" stroke="#2b2b2b" stroke-width="0.3">60000</text>
<text transform="translate(71,1537.4) rotate(-90)" text-anchor="middle" font-size="19.4" fill="#2b2b2b" stroke="#2b2b2b" stroke-width="0.3">40000</text>
<text transform="translate(71,1700.3) rotate(-90)" text-anchor="middle" font-size="19.4" fill="#2b2b2b" stroke="#2b2b2b" stroke-width="0.3">20000</text>
<text transform="translate(71,1863.1) rotate(-90)" text-anchor="middle" font-size="19.4" fill="#2b2b2b" stroke="#2b2b2b" stroke-width="0.3">0</text>
<text transform="translate(21.4,1538.2) rotate(-90)" text-anchor="middle" font-size="19.4" fill="#2b2b2b" stroke="#2b2b2b" stroke-width="0.3">Cy3 signal intensity</text>
<rect x="146.20" y="1785.5" width="5.63" height="77.6" fill="#5cba5a" stroke="#1c6b2b" stroke-width="1.3"/>
<rect x="152.43" y="1790.8" width="5.63" height="72.3" fill="#5cba5a" stroke="#1c6b2b" stroke-width="1.3"/>
<rect x="158.66" y="1810.3" width="5.63" height="52.8" fill="#5cba5a" stroke="#1c6b2b" stroke-width="1.3"/>
<rect x="169.56" y="1743.6" width="5.63" height="119.5" fill="#5cba5a" stroke="#1c6b2b" stroke-width="1.3"/>
<rect x="175.79" y="1787.6" width="5.63" height="75.5" fill="#5cba5a" stroke="#1c6b2b" stroke-width="1.3"/>
<rect x="182.02" y="1790.8" width="5.63" height="72.3" fill="#5cba5a" stroke="#1c6b2b" stroke-width="1.3"/>
<rect x="192.92" y="1629.0" width="5.63" height="234.1" fill="#5cba5a" stroke="#1c6b2b" stroke-width="1.3"/>
<rect x="199.15" y="1687.6" width="5.63" height="175.5" fill="#5cba5a" stroke="#1c6b2b" stroke-width="1.3"/>
<rect x="205.38" y="1785.0" width="5.63" height="78.1" fill="#5cba5a" stroke="#1c6b2b" stroke-width="1.3"/>
<rect x="216.28" y="1696.2" width="5.63" height="166.9" fill="#5cba5a" stroke="#1c6b2b" stroke-width="1.3"/>
<rect x="222.51" y="1703.6" width="5.63" height="159.5" fill="#5cba5a" stroke="#1c6b2b" stroke-width="1.3"/>
<rect x="228.74" y="1787.6" width="5.63" height="75.5" fill="#5cba5a" stroke="#1c6b2b" stroke-width="1.3"/>
<rect x="239.64" y="1657.0" width="5.63" height="206.1" fill="#5cba5a" stroke="#1c6b2b" stroke-width="1.3"/>
<rect x="245.87" y="1639.1" width="5.63" height="224.0" fill="#5cba5a" stroke="#1c6b2b" stroke-width="1.3"/>
<rect x="252.10" y="1687.6" width="5.63" height="175.5" fill="#5cba5a" stroke="#1c6b2b" stroke-width="1.3"/>
<rect x="263.00" y="1755.6" width="5.63" height="107.5" fill="#5cba5a" stroke="#1c6b2b" stroke-width="1.3"/>
<rect x="269.23" y="1647.1" width="5.63" height="216.0" fill="#5cba5a" stroke="#1c6b2b" stroke-width="1.3"/>
<rect x="275.46" y="1729.8" width="5.63" height="133.3" fill="#5cba5a" stroke="#1c6b2b" stroke-width="1.3"/>
<rect x="286.36" y="1757.5" width="5.63" height="105.6" fill="#5cc2a0" stroke="#106a50" stroke-width="1.3"/>
<rect x="292.59" y="1579.1" width="5.63" height="284.0" fill="#5cc2a0" stroke="#106a50" stroke-width="1.3"/>
<rect x="298.82" y="1671.1" width="5.63" height="192.0" fill="#5cc2a0" stroke="#106a50" stroke-width="1.3"/>
<rect x="309.72" y="1314.3" width="5.63" height="548.8" fill="#5cc2a0" stroke="#106a50" stroke-width="1.3"/>
<rect x="315.95" y="1485.0" width="5.63" height="378.1" fill="#5cc2a0" stroke="#106a50" stroke-width="1.3"/>
<rect x="322.18" y="1530.3" width="5.63" height="332.8" fill="#5cc2a0" stroke="#106a50" stroke-width="1.3"/>
<rect x="333.08" y="1849.8" width="5.63" height="13.3" fill="#5cc2a0" stroke="#106a50" stroke-width="1.3"/>
<rect x="339.31" y="1856.2" width="5.63" height="6.9" fill="#5cc2a0" stroke="#106a50" stroke-width="1.3"/>
<rect x="345.54" y="1837.0" width="5.63" height="26.1" fill="#5cc2a0" stroke="#106a50" stroke-width="1.3"/>
<rect x="356.44" y="1428.4" width="5.63" height="434.7" fill="#5cc2a0" stroke="#106a50" stroke-width="1.3"/>
<rect x="362.67" y="1305.5" width="5.63" height="557.6" fill="#5cc2a0" stroke="#106a50" stroke-width="1.3"/>
<rect x="368.90" y="1757.0" width="5.63" height="106.1" fill="#5cc2a0" stroke="#106a50" stroke-width="1.3"/>
<rect x="379.80" y="1751.6" width="5.63" height="111.5" fill="#aa479d" stroke="#5c1a58" stroke-width="1.3"/>
<rect x="386.03" y="1789.0" width="5.63" height="74.1" fill="#aa479d" stroke="#5c1a58" stroke-width="1.3"/>
<rect x="392.26" y="1823.6" width="5.63" height="39.5" fill="#aa479d" stroke="#5c1a58" stroke-width="1.3"/>
<rect x="403.16" y="1733.0" width="5.63" height="130.1" fill="#aa479d" stroke="#5c1a58" stroke-width="1.3"/>
<rect x="409.39" y="1833.4" width="5.63" height="29.7" fill="#aa479d" stroke="#5c1a58" stroke-width="1.3"/>
<rect x="415.62" y="1835.5" width="5.63" height="27.6" fill="#aa479d" stroke="#5c1a58" stroke-width="1.3"/>
<rect x="426.52" y="1842.3" width="5.63" height="20.8" fill="#aa479d" stroke="#5c1a58" stroke-width="1.3"/>
<rect x="432.75" y="1742.3" width="5.63" height="120.8" fill="#aa479d" stroke="#5c1a58" stroke-width="1.3"/>
<rect x="438.98" y="1786.8" width="5.63" height="76.3" fill="#aa479d" stroke="#5c1a58" stroke-width="1.3"/>
<rect x="449.88" y="1795.6" width="5.63" height="67.5" fill="#aa479d" stroke="#5c1a58" stroke-width="1.3"/>
<rect x="456.11" y="1750.3" width="5.63" height="112.8" fill="#aa479d" stroke="#5c1a58" stroke-width="1.3"/>
<rect x="462.34" y="1765.8" width="5.63" height="97.3" fill="#aa479d" stroke="#5c1a58" stroke-width="1.3"/>
<rect x="472.74" y="1859.9" width="6.23" height="4.2" fill="#440621"/>
<rect x="479.47" y="1838.3" width="5.63" height="24.8" fill="#dc1f74" stroke="#440621" stroke-width="1.3"/>
<rect x="485.70" y="1841.8" width="5.63" height="21.3" fill="#dc1f74" stroke="#440621" stroke-width="1.3"/>
<rect x="496.60" y="1720.2" width="5.63" height="142.9" fill="#dc1f74" stroke="#6e0a36" stroke-width="1.3"/>
<rect x="502.83" y="1808.4" width="5.63" height="54.7" fill="#dc1f74" stroke="#6e0a36" stroke-width="1.3"/>
<rect x="509.06" y="1723.6" width="5.63" height="139.5" fill="#dc1f74" stroke="#6e0a36" stroke-width="1.3"/>
<rect x="519.96" y="1677.8" width="5.63" height="185.3" fill="#dc1f74" stroke="#6e0a36" stroke-width="1.3"/>
<rect x="526.19" y="1697.8" width="5.63" height="165.3" fill="#dc1f74" stroke="#6e0a36" stroke-width="1.3"/>
<rect x="532.42" y="1810.3" width="5.63" height="52.8" fill="#dc1f74" stroke="#6e0a36" stroke-width="1.3"/>
<rect x="543.32" y="1385.0" width="5.63" height="478.1" fill="#dc1f74" stroke="#6e0a36" stroke-width="1.3"/>
<rect x="549.55" y="1557.0" width="5.63" height="306.1" fill="#dc1f74" stroke="#6e0a36" stroke-width="1.3"/>
<rect x="555.78" y="1479.1" width="5.63" height="384.0" fill="#dc1f74" stroke="#6e0a36" stroke-width="1.3"/>
<rect x="566.18" y="1862.0" width="6.23" height="2.1" fill="#181d11"/>
<rect x="572.41" y="1862.0" width="6.23" height="2.1" fill="#0e110a"/>
<rect x="578.64" y="1862.0" width="6.23" height="2.1" fill="#080a06"/>
<rect x="589.54" y="1862.0" width="6.23" height="2.1" fill="#181d11"/>
<rect x="595.77" y="1862.0" width="6.23" height="2.1" fill="#0e110a"/>
<rect x="602.00" y="1862.0" width="6.23" height="2.1" fill="#080a06"/>
<rect x="612.90" y="1861.4" width="6.23" height="2.7" fill="#181d11"/>
<rect x="619.13" y="1861.0" width="6.23" height="3.1" fill="#0e110a"/>
<rect x="625.36" y="1861.2" width="6.23" height="2.9" fill="#080a06"/>
<rect x="636.26" y="1862.0" width="6.23" height="2.1" fill="#250c0d"/>
<rect x="642.49" y="1862.0" width="6.23" height="2.1" fill="#160708"/>
<rect x="648.72" y="1862.0" width="6.23" height="2.1" fill="#0d0404"/>
<rect x="659.62" y="1862.0" width="6.23" height="2.1" fill="#250c0d"/>
<rect x="665.85" y="1862.0" width="6.23" height="2.1" fill="#160708"/>
<rect x="672.08" y="1862.0" width="6.23" height="2.1" fill="#0d0404"/>
<rect x="682.98" y="1861.2" width="6.23" height="2.9" fill="#250c0d"/>
<rect x="689.21" y="1859.8" width="6.23" height="4.3" fill="#160708"/>
<rect x="695.44" y="1861.2" width="6.23" height="2.9" fill="#0d0404"/>
<rect x="706.34" y="1862.0" width="6.23" height="2.1" fill="#250c0d"/>
<rect x="712.57" y="1862.0" width="6.23" height="2.1" fill="#160708"/>
<rect x="718.80" y="1862.0" width="6.23" height="2.1" fill="#0d0404"/>
<rect x="729.70" y="1861.8" width="6.23" height="2.3" fill="#16102f"/>
<rect x="735.93" y="1861.2" width="6.23" height="2.9" fill="#0d091d"/>
<rect x="742.66" y="1857.1" width="5.63" height="6.0" fill="#6a4fb2" stroke="#0d091d" stroke-width="1.3"/>
<rect x="753.06" y="1861.8" width="6.23" height="2.3" fill="#16102f"/>
<rect x="759.79" y="1853.1" width="5.63" height="10.0" fill="#6a4fb2" stroke="#16102f" stroke-width="1.3"/>
<rect x="765.52" y="1861.8" width="6.23" height="2.3" fill="#0d091d"/>
<rect x="776.42" y="1861.8" width="6.23" height="2.3" fill="#16102f"/>
<rect x="783.15" y="1859.1" width="5.63" height="4.0" fill="#6a4fb2" stroke="#16102f" stroke-width="1.3"/>
<rect x="788.88" y="1861.8" width="6.23" height="2.3" fill="#0d091d"/>
<rect x="799.78" y="1862.0" width="6.23" height="2.1" fill="#0b3046"/>
<rect x="806.01" y="1862.0" width="6.23" height="2.1" fill="#061d2b"/>
<rect x="812.24" y="1862.0" width="6.23" height="2.1" fill="#03111a"/>
<rect x="823.14" y="1862.0" width="6.23" height="2.1" fill="#0b3046"/>
<rect x="829.37" y="1862.0" width="6.23" height="2.1" fill="#061d2b"/>
<rect x="835.60" y="1862.0" width="6.23" height="2.1" fill="#03111a"/>
<rect x="847.00" y="1856.5" width="5.63" height="6.6" fill="#41abdf" stroke="#134f72" stroke-width="1.3"/>
<rect x="853.23" y="1855.7" width="5.63" height="7.4" fill="#41abdf" stroke="#134f72" stroke-width="1.3"/>
<rect x="859.46" y="1855.7" width="5.63" height="7.4" fill="#41abdf" stroke="#134f72" stroke-width="1.3"/>
<rect x="870.36" y="1857.6" width="5.63" height="5.5" fill="#41abdf" stroke="#134f72" stroke-width="1.3"/>
<rect x="876.09" y="1859.9" width="6.23" height="4.2" fill="#0b3046"/>
<rect x="882.32" y="1859.9" width="6.23" height="4.2" fill="#061d2b"/>
<rect x="893.72" y="1673.5" width="5.63" height="189.6" fill="#41abdf" stroke="#134f72" stroke-width="1.3"/>
<rect x="899.95" y="1812.3" width="5.63" height="50.8" fill="#41abdf" stroke="#134f72" stroke-width="1.3"/>
<rect x="906.18" y="1830.1" width="5.63" height="33.0" fill="#41abdf" stroke="#134f72" stroke-width="1.3"/>
<rect x="917.08" y="1776.5" width="5.63" height="86.6" fill="#41abdf" stroke="#134f72" stroke-width="1.3"/>
<rect x="923.31" y="1817.8" width="5.63" height="45.3" fill="#41abdf" stroke="#134f72" stroke-width="1.3"/>
<rect x="929.54" y="1840.4" width="5.63" height="22.7" fill="#41abdf" stroke="#134f72" stroke-width="1.3"/>
<rect x="940.44" y="1801.3" width="5.63" height="61.8" fill="#3d4c9e" stroke="#161c52" stroke-width="1.3"/>
<rect x="946.67" y="1795.8" width="5.63" height="67.3" fill="#3d4c9e" stroke="#161c52" stroke-width="1.3"/>
<rect x="952.40" y="1861.8" width="6.23" height="2.3" fill="#0d1132"/>
<rect x="963.30" y="1861.8" width="6.23" height="2.3" fill="#0d1132"/>
<rect x="970.03" y="1852.1" width="5.63" height="11.0" fill="#3d4c9e" stroke="#0d1132" stroke-width="1.3"/>
<rect x="976.26" y="1744.2" width="5.63" height="118.9" fill="#3d4c9e" stroke="#0d1132" stroke-width="1.3"/>
<rect x="987.16" y="1834.9" width="5.63" height="28.2" fill="#3d4c9e" stroke="#161c52" stroke-width="1.3"/>
<rect x="993.39" y="1832.9" width="5.63" height="30.2" fill="#3d4c9e" stroke="#161c52" stroke-width="1.3"/>
<rect x="999.62" y="1849.4" width="5.63" height="13.7" fill="#3d4c9e" stroke="#161c52" stroke-width="1.3"/>
<rect x="1010.52" y="1850.1" width="5.63" height="13.0" fill="#3d4c9e" stroke="#161c52" stroke-width="1.3"/>
<rect x="1016.75" y="1839.7" width="5.63" height="23.4" fill="#3d4c9e" stroke="#161c52" stroke-width="1.3"/>
<rect x="1022.98" y="1843.6" width="5.63" height="19.5" fill="#3d4c9e" stroke="#161c52" stroke-width="1.3"/>
<rect x="1033.38" y="1862.0" width="6.23" height="2.1" fill="#121215"/>
<rect x="1039.61" y="1862.0" width="6.23" height="2.1" fill="#0b0b0d"/>
<rect x="1045.84" y="1862.0" width="6.23" height="2.1" fill="#060608"/>
<rect x="1056.74" y="1862.0" width="6.23" height="2.1" fill="#121215"/>
<rect x="1062.97" y="1862.0" width="6.23" height="2.1" fill="#0b0b0d"/>
<rect x="1069.20" y="1862.0" width="6.23" height="2.1" fill="#060608"/>
<rect x="1080.10" y="1862.0" width="6.23" height="2.1" fill="#121215"/>
<rect x="1086.33" y="1862.0" width="6.23" height="2.1" fill="#0b0b0d"/>
<rect x="1092.56" y="1862.0" width="6.23" height="2.1" fill="#060608"/>
<rect x="1103.46" y="1862.0" width="6.23" height="2.1" fill="#121215"/>
<rect x="1109.69" y="1862.0" width="6.23" height="2.1" fill="#0b0b0d"/>
<rect x="1115.92" y="1862.0" width="6.23" height="2.1" fill="#060608"/>
<rect x="1126.82" y="1862.0" width="6.23" height="2.1" fill="#121215"/>
<rect x="1133.05" y="1862.0" width="6.23" height="2.1" fill="#0b0b0d"/>
<rect x="1139.28" y="1862.0" width="6.23" height="2.1" fill="#060608"/>
<rect x="1150.18" y="1861.0" width="6.23" height="3.1" fill="#121212"/>
<rect x="1156.41" y="1860.8" width="6.23" height="3.3" fill="#0b0b0b"/>
<rect x="1162.64" y="1861.4" width="6.23" height="2.7" fill="#060606"/>
<rect x="1173.54" y="1861.8" width="6.23" height="2.3" fill="#121212"/>
<rect x="1179.77" y="1861.8" width="6.23" height="2.3" fill="#0b0b0b"/>
<rect x="1186.00" y="1861.8" width="6.23" height="2.3" fill="#060606"/>
<rect x="1196.90" y="1861.4" width="6.23" height="2.7" fill="#121212"/>
<rect x="1203.13" y="1861.8" width="6.23" height="2.3" fill="#0b0b0b"/>
<rect x="1209.36" y="1861.8" width="6.23" height="2.3" fill="#060606"/>
<rect x="1220.26" y="1862.0" width="6.23" height="2.1" fill="#121212"/>
<rect x="1226.49" y="1862.0" width="6.23" height="2.1" fill="#0b0b0b"/>
<rect x="1232.72" y="1862.0" width="6.23" height="2.1" fill="#060606"/>
<rect x="1243.62" y="1862.0" width="6.23" height="2.1" fill="#121212"/>
<rect x="1249.85" y="1862.0" width="6.23" height="2.1" fill="#0b0b0b"/>
<rect x="1256.08" y="1862.0" width="6.23" height="2.1" fill="#060606"/>
<text transform="translate(161.9,1890.3) rotate(-90)" text-anchor="end" font-size="19.5" fill="#2b2b2b" stroke="#2b2b2b" stroke-width="0.3">Leaf Blade_vegetative_12:00</text>
<text transform="translate(185.3,1890.3) rotate(-90)" text-anchor="end" font-size="19.5" fill="#2b2b2b" stroke="#2b2b2b" stroke-width="0.3">Leaf Blade_vegetative_00:00</text>
<text transform="translate(208.7,1890.3) rotate(-90)" text-anchor="end" font-size="19.5" fill="#2b2b2b" stroke="#2b2b2b" stroke-width="0.3">Leaf Blade_reproductive_12:00</text>
<text transform="translate(232.0,1890.3) rotate(-90)" text-anchor="end" font-size="19.5" fill="#2b2b2b" stroke="#2b2b2b" stroke-width="0.3">Leaf Blade_reproductive_00:00</text>
<text transform="translate(255.4,1890.3) rotate(-90)" text-anchor="end" font-size="19.5" fill="#2b2b2b" stroke="#2b2b2b" stroke-width="0.3">Leaf Blade_ripening_12:00</text>
<text transform="translate(278.8,1890.3) rotate(-90)" text-anchor="end" font-size="19.5" fill="#2b2b2b" stroke="#2b2b2b" stroke-width="0.3">Leaf Blade_ripening_00:00</text>
<text transform="translate(302.1,1890.3) rotate(-90)" text-anchor="end" font-size="19.5" fill="#2b2b2b" stroke="#2b2b2b" stroke-width="0.3">Leaf Sheath_vegetative_12:00</text>
<text transform="translate(325.5,1890.3) rotate(-90)" text-anchor="end" font-size="19.5" fill="#2b2b2b" stroke="#2b2b2b" stroke-width="0.3">Leaf Sheath_vegetative_00:00</text>
<text transform="translate(348.8,1890.3) rotate(-90)" text-anchor="end" font-size="19.5" fill="#2b2b2b" stroke="#2b2b2b" stroke-width="0.3">Leaf Sheath_reproductive_12:00</text>
<text transform="translate(372.2,1890.3) rotate(-90)" text-anchor="end" font-size="19.5" fill="#2b2b2b" stroke="#2b2b2b" stroke-width="0.3">Leaf Sheath_reproductive_00:00</text>
<text transform="translate(395.5,1890.3) rotate(-90)" text-anchor="end" font-size="19.5" fill="#2b2b2b" stroke="#2b2b2b" stroke-width="0.3">Root_vegetative_12:00</text>
<text transform="translate(418.9,1890.3) rotate(-90)" text-anchor="end" font-size="19.5" fill="#2b2b2b" stroke="#2b2b2b" stroke-width="0.3">Root_vegetative_00:00</text>
<text transform="translate(442.3,1890.3) rotate(-90)" text-anchor="end" font-size="19.5" fill="#2b2b2b" stroke="#2b2b2b" stroke-width="0.3">Root_reproductive_12:00</text>
<text transform="translate(465.6,1890.3) rotate(-90)" text-anchor="end" font-size="19.5" fill="#2b2b2b" stroke="#2b2b2b" stroke-width="0.3">Root_reproductive_00:00</text>
<text transform="translate(489.0,1890.3) rotate(-90)" text-anchor="end" font-size="19.5" fill="#2b2b2b" stroke="#2b2b2b" stroke-width="0.3">Stem_reproductive_12:00</text>
<text transform="translate(512.4,1890.3) rotate(-90)" text-anchor="end" font-size="19.5" fill="#2b2b2b" stroke="#2b2b2b" stroke-width="0.3">Stem_reproductive_00:00</text>
<text transform="translate(535.7,1890.3) rotate(-90)" text-anchor="end" font-size="19.5" fill="#2b2b2b" stroke="#2b2b2b" stroke-width="0.3">Stem_ripening_12:00</text>
<text transform="translate(559.1,1890.3) rotate(-90)" text-anchor="end" font-size="19.5" fill="#2b2b2b" stroke="#2b2b2b" stroke-width="0.3">Stem_ripening_00:00</text>
<text transform="translate(582.4,1890.3) rotate(-90)" text-anchor="end" font-size="19.5" fill="#2b2b2b" stroke="#2b2b2b" stroke-width="0.3">Inflorescence_0.6-1.0 mm</text>
<text transform="translate(605.8,1890.3) rotate(-90)" text-anchor="end" font-size="19.5" fill="#2b2b2b" stroke="#2b2b2b" stroke-width="0.3">Inflorescence_3.0-4.0 mm</text>
<text transform="translate(629.1,1890.3) rotate(-90)" text-anchor="end" font-size="19.5" fill="#2b2b2b" stroke="#2b2b2b" stroke-width="0.3">Inflorescence_5.0-10 mm</text>
<text transform="translate(652.5,1890.3) rotate(-90)" text-anchor="end" font-size="19.5" fill="#2b2b2b" stroke="#2b2b2b" stroke-width="0.3">Anther_0.3-0.6 mm</text>
<text transform="translate(675.9,1890.3) rotate(-90)" text-anchor="end" font-size="19.5" fill="#2b2b2b" stroke="#2b2b2b" stroke-width="0.3">Anther_0.7-1.0 mm</text>
<text transform="translate(699.2,1890.3) rotate(-90)" text-anchor="end" font-size="19.5" fill="#2b2b2b" stroke="#2b2b2b" stroke-width="0.3">Anther_1.2-1.5 mm</text>
<text transform="translate(722.6,1890.3) rotate(-90)" text-anchor="end" font-size="19.5" fill="#2b2b2b" stroke="#2b2b2b" stroke-width="0.3">Anther_1.6-2.0 mm</text>
<text transform="translate(746.0,1890.3) rotate(-90)" text-anchor="end" font-size="19.5" fill="#2b2b2b" stroke="#2b2b2b" stroke-width="0.3">Pistil_05-10 cm panicle</text>
<text transform="translate(769.3,1890.3) rotate(-90)" text-anchor="end" font-size="19.5" fill="#2b2b2b" stroke="#2b2b2b" stroke-width="0.3">Pistil_10-14 cm panicle</text>
<text transform="translate(792.7,1890.3) rotate(-90)" text-anchor="end" font-size="19.5" fill="#2b2b2b" stroke="#2b2b2b" stroke-width="0.3">Pistil_14-18 cm panicle</text>
<text transform="translate(816.0,1890.3) rotate(-90)" text-anchor="end" font-size="19.5" fill="#2b2b2b" stroke="#2b2b2b" stroke-width="0.3">Lemma_1.5-2.0 mm floret</text>
<text transform="translate(839.4,1890.3) rotate(-90)" text-anchor="end" font-size="19.5" fill="#2b2b2b" stroke="#2b2b2b" stroke-width="0.3">Palea_1.5-2.0 mm floret</text>
<text transform="translate(862.8,1890.3) rotate(-90)" text-anchor="end" font-size="19.5" fill="#2b2b2b" stroke="#2b2b2b" stroke-width="0.3">Lemma_4.0-5.0 mm floret</text>
<text transform="translate(886.1,1890.3) rotate(-90)" text-anchor="end" font-size="19.5" fill="#2b2b2b" stroke="#2b2b2b" stroke-width="0.3">Palea_4.0-5.0 mm floret</text>
<text transform="translate(909.5,1890.3) rotate(-90)" text-anchor="end" font-size="19.5" fill="#2b2b2b" stroke="#2b2b2b" stroke-width="0.3">Lemma_7.0- mm floret</text>
<text transform="translate(932.8,1890.3) rotate(-90)" text-anchor="end" font-size="19.5" fill="#2b2b2b" stroke="#2b2b2b" stroke-width="0.3">Palea_7.0- mm floret</text>
<text transform="translate(956.2,1890.3) rotate(-90)" text-anchor="end" font-size="19.5" fill="#2b2b2b" stroke="#2b2b2b" stroke-width="0.3">Ovary_01 DAF</text>
<text transform="translate(979.5,1890.3) rotate(-90)" text-anchor="end" font-size="19.5" fill="#2b2b2b" stroke="#2b2b2b" stroke-width="0.3">Ovary_03 DAF</text>
<text transform="translate(1002.9,1890.3) rotate(-90)" text-anchor="end" font-size="19.5" fill="#2b2b2b" stroke="#2b2b2b" stroke-width="0.3">Ovary_05 DAF</text>
<text transform="translate(1026.3,1890.3) rotate(-90)" text-anchor="end" font-size="19.5" fill="#2b2b2b" stroke="#2b2b2b" stroke-width="0.3">Ovary_07 DAF</text>
<text transform="translate(1049.6,1890.3) rotate(-90)" text-anchor="end" font-size="19.5" fill="#2b2b2b" stroke="#2b2b2b" stroke-width="0.3">Embryo_07 DAF</text>
<text transform="translate(1073.0,1890.3) rotate(-90)" text-anchor="end" font-size="19.5" fill="#2b2b2b" stroke="#2b2b2b" stroke-width="0.3">Embryo_10 DAF</text>
<text transform="translate(1096.3,1890.3) rotate(-90)" text-anchor="end" font-size="19.5" fill="#2b2b2b" stroke="#2b2b2b" stroke-width="0.3">Embryo_14 DAF</text>
<text transform="translate(1119.7,1890.3) rotate(-90)" text-anchor="end" font-size="19.5" fill="#2b2b2b" stroke="#2b2b2b" stroke-width="0.3">Embryo_28 DAF</text>
<text transform="translate(1143.1,1890.3) rotate(-90)" text-anchor="end" font-size="19.5" fill="#2b2b2b" stroke="#2b2b2b" stroke-width="0.3">Embryo_42 DAF</text>
<text transform="translate(1166.4,1890.3) rotate(-90)" text-anchor="end" font-size="19.5" fill="#2b2b2b" stroke="#2b2b2b" stroke-width="0.3">Endosperm_07 DAF</text>
<text transform="translate(1189.8,1890.3) rotate(-90)" text-anchor="end" font-size="19.5" fill="#2b2b2b" stroke="#2b2b2b" stroke-width="0.3">Endosperm_10 DAF</text>
<text transform="translate(1213.2,1890.3) rotate(-90)" text-anchor="end" font-size="19.5" fill="#2b2b2b" stroke="#2b2b2b" stroke-width="0.3">Endosperm_14 DAF</text>
<text transform="translate(1236.5,1890.3) rotate(-90)" text-anchor="end" font-size="19.5" fill="#2b2b2b" stroke="#2b2b2b" stroke-width="0.3">Endosperm_28 DAF</text>
<text transform="translate(1259.9,1890.3) rotate(-90)" text-anchor="end" font-size="19.5" fill="#2b2b2b" stroke="#2b2b2b" stroke-width="0.3">Endosperm_42 DAF</text>
</g>
</g>
</svg>
</body></html>
